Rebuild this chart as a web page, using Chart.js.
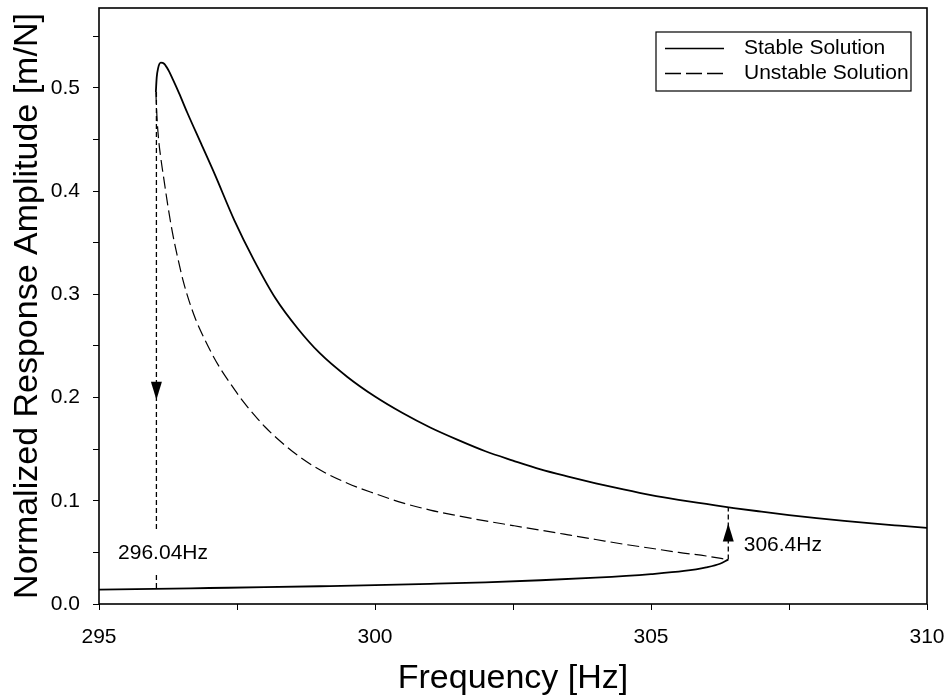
<!DOCTYPE html>
<html>
<head>
<meta charset="utf-8">
<script src="https://cdn.jsdelivr.net/npm/chart.js@4.4.1/dist/chart.umd.min.js"></script>
<style>
  body { margin: 0; background: #fff; }
  #wrap { width: 947px; height: 699px; }
</style>
</head>
<body>
<div id="wrap"><canvas id="myChart" width="947" height="699"></canvas></div>
<script>
// frequency response (Hz, m/N)
var lowerFreq = [295, 296, 297, 298, 299, 300, 301, 302, 303, 304, 305, 305.6, 306, 306.25, 306.4];
var lowerAmp  = [0.014, 0.0147, 0.0155, 0.0163, 0.0172, 0.0182, 0.0195, 0.021, 0.023, 0.0255, 0.029, 0.032, 0.0355, 0.039, 0.043];

var upperFreq = [296.03, 296.045, 296.07, 296.12, 296.18, 296.26, 296.34, 296.45, 296.6, 296.85, 297.1, 297.45, 297.8,
                 298.2, 298.6, 299.0, 299.5, 300, 300.5, 301, 301.5, 302, 302.5, 303, 303.5, 304, 304.5, 305,
                 305.5, 306, 306.5, 307, 307.5, 308, 308.5, 309, 309.5, 310];
var upperAmp  = [0.496, 0.510, 0.519, 0.5245, 0.5235, 0.517, 0.508, 0.495, 0.476, 0.446, 0.416, 0.372, 0.334,
                 0.296, 0.267, 0.243, 0.220, 0.201, 0.185, 0.171, 0.159, 0.148, 0.139, 0.1305, 0.1235, 0.117, 0.111, 0.1055,
                 0.101, 0.097, 0.093, 0.0895, 0.0862, 0.0833, 0.0806, 0.0781, 0.0759, 0.0738];

var unstableFreq = [296.03, 296.05, 296.08, 296.12, 296.18, 296.25, 296.33, 296.42, 296.52, 296.63, 296.75, 296.9,
                    297.05, 297.2, 297.4, 297.6, 297.8, 298.0, 298.3, 298.6, 299.0, 299.5, 300, 300.5, 301, 301.5,
                    302, 302.5, 303, 303.5, 304, 304.5, 305, 305.5, 306, 306.4];
var unstableAmp  = [0.496, 0.472, 0.450, 0.432, 0.410, 0.385, 0.360, 0.337, 0.314, 0.294, 0.276, 0.258,
                    0.242, 0.228, 0.212, 0.197, 0.184, 0.172, 0.157, 0.144, 0.130, 0.117, 0.107, 0.098, 0.091, 0.0855,
                    0.0805, 0.076, 0.0715, 0.067, 0.0625, 0.058, 0.054, 0.050, 0.0465, 0.043];

// jump lines (dotted), null = gap for the label
var jumpDownFreq = [296.04, 296.04, 296.04, 296.04, 296.04];
var jumpDownAmp  = [0.496, 0.07, null, 0.028, 0.0145];
var jumpUpFreq = [306.4, 306.4];
var jumpUpAmp  = [0.043, 0.093];

// arrow heads: frequency, amplitude of the tip, direction
var arrowFreq = [296.04, 306.4];
var arrowTip  = [0.198, 0.078];
var arrowDir  = ["down", "up"];

var noteText = ["296.04Hz", "306.4Hz"];
var noteFreq = [296.16, 306.68];
var noteAmp  = [0.0495, 0.0565];
var noteAlign = ["center", "left"];

var xTicks = [295, 300, 305, 310];
var yTicks = [0.0, 0.1, 0.2, 0.3, 0.4, 0.5];

function pts(xs, ys) {
    var out = [];
    for (var i = 0; i < xs.length; i++) out.push({x: xs[i], y: ys[i]});
    return out;
}

var FONT = "'Liberation Sans', Arial, Helvetica, sans-serif";
Chart.defaults.font.family = FONT;
Chart.defaults.color = "#000";

// box, arrows, labels and legend drawn over the plot
var extras = {
    id: "extras",
    afterDatasetsDraw(chart) {
        var ctx = chart.ctx;
        var a = chart.chartArea;
        var xs = chart.scales.x, ys = chart.scales.y;
        ctx.save();
        ctx.strokeStyle = "#000";
        ctx.fillStyle = "#000";
        ctx.lineWidth = 1.6;
        ctx.strokeRect(a.left, a.top, a.right - a.left, a.bottom - a.top);

        for (var i = 0; i < arrowFreq.length; i++) {
            var px = xs.getPixelForValue(arrowFreq[i]);
            var py = ys.getPixelForValue(arrowTip[i]);
            var base = arrowDir[i] == "up" ? py + 18 : py - 18;
            ctx.beginPath();
            ctx.moveTo(px, py);
            ctx.lineTo(px - 5.5, base);
            ctx.lineTo(px + 5.5, base);
            ctx.closePath();
            ctx.fill();
        }

        ctx.font = "21px " + FONT;
        ctx.textBaseline = "middle";
        for (var j = 0; j < noteText.length; j++) {
            ctx.textAlign = noteAlign[j];
            ctx.fillText(noteText[j], xs.getPixelForValue(noteFreq[j]), ys.getPixelForValue(noteAmp[j]));
        }

        // legend (only the named datasets, one entry per name)
        var seen = [];
        var items = [];
        chart.data.datasets.forEach(function (ds) {
            if (ds.label && seen.indexOf(ds.label) < 0) {
                seen.push(ds.label);
                items.push(ds);
            }
        });
        var bx = a.right - 271, by = a.top + 24, bw = 255, bh = 59;
        ctx.lineWidth = 1.2;
        ctx.setLineDash([]);
        ctx.strokeRect(bx, by, bw, bh);
        ctx.textAlign = "left";
        items.forEach(function (ds, k) {
            var ry = by + 16.5 + k * 25;
            ctx.beginPath();
            ctx.lineWidth = 1.4;
            ctx.setLineDash(ds.borderDash && ds.borderDash.length ? [16, 5] : []);
            ctx.moveTo(bx + 9, ry);
            ctx.lineTo(bx + 68, ry);
            ctx.stroke();
            ctx.setLineDash([]);
            ctx.fillText(ds.label, bx + 88, ry);
        });
        ctx.restore();
    }
};

// fixed axis sizes, no extra room for overhanging tick labels
function fixX(s) { s.height = 95; s.paddingLeft = 0; s.paddingRight = 0; }
function fixY(s) { s.width = 99; s.paddingTop = 0; s.paddingBottom = 0; }

var solid = {showLine: true, pointRadius: 0, borderColor: "#000", borderWidth: 1.8, cubicInterpolationMode: "monotone", fill: false};

new Chart("myChart", {
    type: "scatter",
    data: {
        datasets: [
            Object.assign({label: "Stable Solution", data: pts(lowerFreq, lowerAmp)}, solid),
            Object.assign({label: "Stable Solution", data: pts(upperFreq, upperAmp)}, solid),
            Object.assign({label: "Unstable Solution", data: pts(unstableFreq, unstableAmp)}, solid,
                {borderWidth: 1.2, borderDash: [12, 5]}),
            {label: "", data: pts(jumpDownFreq, jumpDownAmp), showLine: true, spanGaps: false, pointRadius: 0,
                borderColor: "#000", borderWidth: 1.3, borderDash: [5, 3]},
            {label: "", data: pts(jumpUpFreq, jumpUpAmp), showLine: true, pointRadius: 0,
                borderColor: "#000", borderWidth: 1.3, borderDash: [5, 3]}
        ]
    },
    options: {
        responsive: false,
        animation: false,
        layout: {padding: {top: 8, right: 20, left: 0, bottom: 0}},
        plugins: {legend: {display: false}, tooltip: {enabled: false}},
        scales: {
            x: {
                type: "linear",
                min: 295, max: 310,
                afterFit: fixX,
                grid: {drawOnChartArea: false, drawTicks: true, tickLength: 6, color: "#000", lineWidth: 1},
                border: {display: false},
                ticks: {
                    stepSize: 2.5, includeBounds: false, autoSkip: false, maxRotation: 0,
                    padding: 15, font: {size: 21},
                    callback: function (v) { return xTicks.indexOf(v) >= 0 ? String(v) : ""; }
                },
                title: {display: true, text: "Frequency [Hz]", font: {size: 34}, padding: {top: 0, bottom: 0}}
            },
            y: {
                type: "linear",
                min: 0, max: 0.5775,
                afterFit: fixY,
                grid: {drawOnChartArea: false, drawTicks: true, tickLength: 6, color: "#000", lineWidth: 1},
                border: {display: false},
                ticks: {
                    stepSize: 0.05, includeBounds: false, autoSkip: false,
                    padding: 13, font: {size: 21},
                    callback: function (v) {
                        var r = Math.round(v * 100) / 100;
                        return yTicks.indexOf(r) >= 0 ? r.toFixed(1) : "";
                    }
                },
                title: {display: true, text: "Normalized Response Amplitude [m/N]", font: {size: 34}, padding: {top: 7, bottom: 0}}
            }
        }
    },
    plugins: [extras]
});
</script>
</body>
</html>
